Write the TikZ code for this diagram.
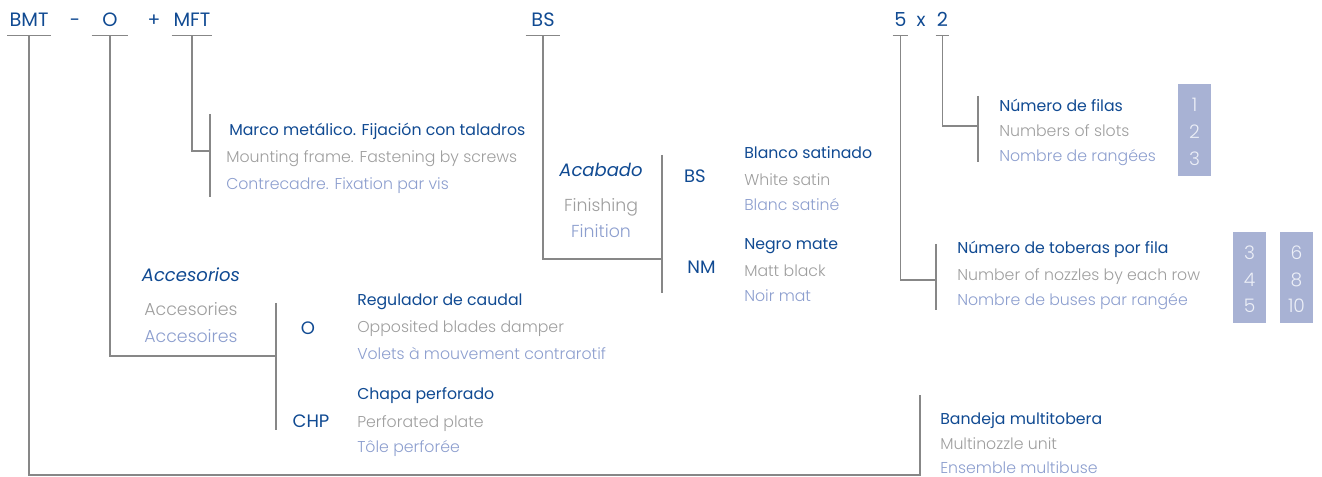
\documentclass[tikz,border=0pt]{standalone}
\usepackage{fontspec}
\setmainfont{Poppins}
\newfontfamily\lightfont{Poppins Light}
\usetikzlibrary{
    calc,
    positioning
}
\definecolor{navy}{RGB}{16,74,146}
\definecolor{greytext}{RGB}{158,158,158}
\definecolor{bluetext}{RGB}{140,158,206}
\definecolor{rulegrey}{RGB}{135,135,135}
\definecolor{boxfill}{RGB}{168,178,212}
\definecolor{boxtext}{RGB}{236,239,247}
\tikzset{
    line cap=butt,
    line join=miter,
    rule/.style={
        draw=rulegrey,
        line width=1.1pt
    },
    code/.style={
        font=\fontsize{14.5}{14.5}\selectfont,
        text=navy,
        inner sep=0pt,
        anchor=base,
        text depth=6pt
    },
    sign/.style={
        font=\fontsize{14}{14}\selectfont,
        text=navy,
        inner sep=0pt,
        anchor=base
    },
    subcode/.style={
        font=\fontsize{13.5}{13.5}\selectfont,
        text=navy,
        inner sep=0pt,
        anchor=base
    },
    headline/.style={
        font=\fontsize{13.5}{13.5}\selectfont\itshape,
        text=navy,
        inner sep=0pt,
        anchor=base
    },
    headgrey/.style={
        font=\fontsize{13}{13}\lightfont,
        text=greytext,
        inner sep=0pt,
        anchor=base
    },
    headblue/.style={
        headgrey,
        text=bluetext
    },
    title/.style={
        font=\fontsize{11.8}{11.8}\selectfont,
        text=navy,
        inner sep=0pt,
        anchor=base west
    },
    english/.style={
        font=\fontsize{11.8}{11.8}\lightfont,
        text=greytext,
        inner sep=0pt,
        anchor=base west
    },
    french/.style={
        english,
        text=bluetext
    },
    boxnum/.style={
        font=\fontsize{14}{14}\lightfont,
        text=boxtext,
        inner sep=0pt,
        anchor=base
    }
}

\begin{document}
\begin{tikzpicture}[x=0.75pt, y=-0.75pt]
\useasboundingbox (0,0) rectangle (1322,477);

% Reference code
\node[code, minimum width=32.25pt] (bmt) at (29, 27) {BMT};
\node[sign] (dash) at (75, 27) {-};
\node[code, minimum width=27pt] (opt) at (110, 27) {O};
\node[sign] (plus) at (154, 27) {+};
\node[code, minimum width=30pt] (mft) at (192, 27) {MFT};
\node[code, minimum width=25.5pt] (bs) at (543, 27) {BS};
\node[code, minimum width=11.25pt] (nozzles) at (900.5, 27) {5};
\node[sign] (times) at (921, 27) {x};
\node[code, minimum width=9.75pt] (rows) at (942.5, 27) {2};
\foreach \c in {bmt, opt, mft, bs, nozzles, rows} {
    \draw[rule] (\c.south west) -- (\c.south east);
}

% Group bars
\coordinate (mfttop) at (210, 114);
\coordinate (mftbot) at (210, 197);
\coordinate (bstop) at (662, 155);
\coordinate (bsbot) at (662, 293);
\coordinate (acctop) at (276, 303);
\coordinate (accbot) at (276, 430);
\coordinate (filtop) at (978, 96);
\coordinate (filbot) at (978, 162);
\coordinate (tobtop) at (936, 244);
\coordinate (tobbot) at (936, 310);
\coordinate (bandtop) at (920, 395);
\coordinate (bandbot) at (920, 475);
\foreach \g in {mft, bs, acc, fil, tob} {
    \draw[rule] (\g top) -- (\g bot);
}

% Leaders from the code
\draw[rule] (mft.south) |- (mfttop |- 0,151);
\draw[rule] (bs.south) |- (bstop |- 0,259);
\draw[rule] (opt.south) |- (acctop |- 0,356);
\draw[rule] (rows.south) |- (filtop |- 0,126);
\draw[rule] (nozzles.south) |- (tobtop |- 0,280);
\draw[rule] (bmt.south) |- (bandbot) -- (bandtop);

% Frame
\node[title] (marco) at (229, 136) {Marco metálico. Fijación con taladros};
\node[english] (mounting) at (226, 163) {Mounting frame. Fastening by screws};
\node[french] (contre) at (226, 190) {Contrecadre. Fixation par vis};

% Finishing
\node[headline] (acabado) at (601, 177) {Acabado};
\node[headgrey] (finishing) at (601, 212) {Finishing};
\node[headblue] (finition) at (601, 238) {Finition};
\node[subcode] (bscode) at (695, 183) {BS};
\node[subcode] (nmcode) at (701.5, 274) {NM};
\node[title] (blanco) at (744, 159) {Blanco satinado};
\node[english] (white) at (744, 186) {White satin};
\node[french] (blanc) at (744, 211) {Blanc satiné};
\node[title] (negro) at (744, 250) {Negro mate};
\node[english] (matt) at (744, 277) {Matt black};
\node[french] (noir) at (744, 302) {Noir mat};

% Accessories
\node[headline] (accesorios) at (191, 282) {Accesorios};
\node[headgrey] (accesories) at (191, 316) {Accesories};
\node[headblue] (accesoires) at (191, 343) {Accesoires};
\node[subcode] (ocode) at (308, 335) {O};
\node[subcode] (chpcode) at (311, 427) {CHP};
\node[title] (regulador) at (357, 306) {Regulador de caudal};
\node[english] (damper) at (357, 333) {Opposited blades damper};
\node[french] (volets) at (357, 360) {Volets à mouvement contrarotif};
\node[title] (chapa) at (357, 400) {Chapa perforado};
\node[english] (plate) at (357, 427) {Perforated plate};
\node[french] (tole) at (357, 453) {Tôle perforée};

% Rows and nozzles
\node[title] (filas) at (999, 112) {Número de filas};
\node[english] (slots) at (999, 137) {Numbers of slots};
\node[french] (rangees) at (999, 162) {Nombre de rangées};
\node[title] (toberas) at (957, 254) {Número de toberas por fila};
\node[english] (eachrow) at (957, 281) {Number of nozzles by each row};
\node[french] (buses) at (957, 306) {Nombre de buses par rangée};

\fill[boxfill] (1178, 84) rectangle (1211, 176);
\fill[boxfill] (1233, 232) rectangle (1266, 323);
\fill[boxfill] (1280, 232) rectangle (1313, 323);
\foreach \n/\y in {1/112, 2/139, 3/166} {
    \node[boxnum] (fil\n) at (1194.5, \y) {\n};
}
\foreach \a/\b/\y in {3/6/260, 4/8/287, 5/10/313} {
    \node[boxnum] (toba\a) at (1249.5, \y) {\a};
    \node[boxnum] (tobb\b) at (1296.5, \y) {\b};
}

% Multinozzle unit
\node[title] (bandeja) at (940, 425) {Bandeja multitobera};
\node[english] (unit) at (940, 450) {Multinozzle unit};
\node[french] (ensemble) at (940, 474) {Ensemble multibuse};
\end{tikzpicture}
\end{document}
